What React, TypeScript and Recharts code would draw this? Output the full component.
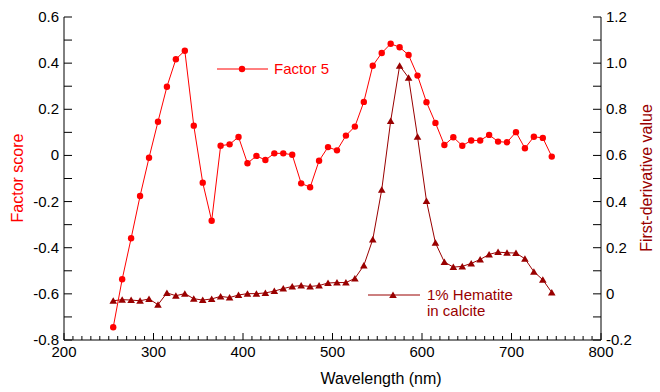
import React from 'react';
import { ComposedChart, Line, XAxis, YAxis } from 'recharts';

const wavelengths = [255, 265, 275, 285, 295, 305, 315, 325, 335, 345, 355, 365, 375, 385, 395, 405, 415, 425, 435, 445, 455, 465, 475, 485, 495, 505, 515, 525, 535, 545, 555, 565, 575, 585, 595, 605, 615, 625, 635, 645, 655, 665, 675, 685, 695, 705, 715, 725, 735, 745];

const factor5 = [-0.745, -0.537, -0.359, -0.176, -0.010, 0.146, 0.298, 0.417, 0.454, 0.129, -0.118, -0.283, 0.042, 0.048, 0.080, -0.034, -0.002, -0.020, 0.009, 0.009, 0.003, -0.121, -0.138, -0.023, 0.036, 0.022, 0.086, 0.125, 0.232, 0.389, 0.444, 0.484, 0.469, 0.435, 0.346, 0.231, 0.141, 0.045, 0.079, 0.042, 0.065, 0.065, 0.089, 0.060, 0.057, 0.101, 0.031, 0.081, 0.076, -0.005];

const hematite = [-0.030, -0.025, -0.027, -0.030, -0.022, -0.047, 0.004, -0.008, 0.001, -0.021, -0.027, -0.022, -0.011, -0.016, -0.005, 0.001, 0.001, 0.004, 0.012, 0.023, 0.032, 0.036, 0.032, 0.036, 0.047, 0.049, 0.049, 0.067, 0.123, 0.236, 0.451, 0.749, 0.989, 0.937, 0.681, 0.403, 0.221, 0.138, 0.116, 0.119, 0.132, 0.149, 0.171, 0.181, 0.178, 0.177, 0.152, 0.096, 0.061, 0.006];

const xTicks = [200, 210, 220, 230, 240, 250, 260, 270, 280, 290, 300, 310, 320, 330, 340, 350, 360, 370, 380, 390, 400, 410, 420, 430, 440, 450, 460, 470, 480, 490, 500, 510, 520, 530, 540, 550, 560, 570, 580, 590, 600, 610, 620, 630, 640, 650, 660, 670, 680, 690, 700, 710, 720, 730, 740, 750, 760, 770, 780, 790, 800];
const leftTicks = [-0.8, -0.7, -0.6, -0.5, -0.4, -0.3, -0.2, -0.1, 0, 0.1, 0.2, 0.3, 0.4, 0.5, 0.6];
const rightTicks = [-0.2, -0.1, 0, 0.1, 0.2, 0.3, 0.4, 0.5, 0.6, 0.7, 0.8, 0.9, 1.0, 1.1, 1.2];

const data = wavelengths.map((w, i) => ({ wl: w, f5: factor5[i], hem: hematite[i] }));

const RED = '#ff0000';
const DARK = '#990000';
const FONT = '"Liberation Sans", Arial, Helvetica, sans-serif';

const fmt = (v: number) => (Math.abs(v) < 1e-9 ? '0' : v.toFixed(1));
const isMajorY = (v: number) => Math.round(v * 10) % 2 === 0;

const BottomTick = (props: any) => {
  const { x, y, payload } = props;
  const v = payload.value;
  const major = v % 100 === 0;
  return (
    <g>
      <line x1={x} x2={x} y1={y} y2={y - (major ? 7 : 4)} stroke="#000" strokeWidth={1} />
      {major && (
        <text x={x} y={y + 17} textAnchor="middle" fontSize={15} fontFamily={FONT} fill="#000">
          {v}
        </text>
      )}
    </g>
  );
};

const TopTick = (props: any) => {
  const { x, y, payload } = props;
  const major = payload.value % 100 === 0;
  return <line x1={x} x2={x} y1={y} y2={y + (major ? 7 : 4)} stroke="#000" strokeWidth={1} />;
};

const LeftTick = (props: any) => {
  const { x, y, payload } = props;
  const v = payload.value;
  return (
    <g>
      <line x1={x} x2={x + 8} y1={y} y2={y} stroke="#000" strokeWidth={1} />
      {isMajorY(v) && (
        <text x={x - 5} y={y + 5} textAnchor="end" fontSize={15} fontFamily={FONT} fill="#000">
          {fmt(v)}
        </text>
      )}
    </g>
  );
};

const RightTick = (props: any) => {
  const { x, y, payload } = props;
  const v = payload.value;
  return (
    <g>
      <line x1={x} x2={x - 8} y1={y} y2={y} stroke="#000" strokeWidth={1} />
      {isMajorY(v) && (
        <text x={x + 5} y={y + 5} textAnchor="start" fontSize={15} fontFamily={FONT} fill="#000">
          {fmt(v)}
        </text>
      )}
    </g>
  );
};

const TriangleDot = (props: any) => {
  const { cx, cy } = props;
  if (cx == null || cy == null) return null;
  return <path d={`M${cx},${cy - 3.5} L${cx + 3.8},${cy + 3} L${cx - 3.8},${cy + 3} Z`} fill={DARK} stroke="none" />;
};

export default function App() {
  return (
    <div style={{ position: 'absolute', left: 0, top: 0, width: 660, height: 392, background: '#fff' }}>
      <ComposedChart
        width={660}
        height={392}
        data={data}
        margin={{ top: 17, right: 20, bottom: 22, left: 20 }}
      >
        <XAxis
          xAxisId="b"
          dataKey="wl"
          type="number"
          domain={[200, 800]}
          ticks={xTicks}
          interval={0}
          tickSize={0}
          tickMargin={0}
          tickLine={false}
          height={30}
          axisLine={{ stroke: '#000' }}
          tick={<BottomTick />}
          allowDataOverflow
        />
        <XAxis
          xAxisId="t"
          orientation="top"
          type="number"
          domain={[200, 800]}
          ticks={xTicks}
          interval={0}
          tickSize={0}
          tickMargin={0}
          tickLine={false}
          height={0}
          axisLine={{ stroke: '#000' }}
          tick={<TopTick />}
          allowDataOverflow
        />
        <YAxis
          yAxisId="l"
          type="number"
          domain={[-0.8, 0.6]}
          ticks={leftTicks}
          interval={0}
          tickSize={0}
          tickMargin={0}
          tickLine={false}
          width={44}
          axisLine={{ stroke: '#000' }}
          tick={<LeftTick />}
          allowDataOverflow
        />
        <YAxis
          yAxisId="r"
          orientation="right"
          type="number"
          domain={[-0.2, 1.2]}
          ticks={rightTicks}
          interval={0}
          tickSize={0}
          tickMargin={0}
          tickLine={false}
          width={39}
          axisLine={{ stroke: '#000' }}
          tick={<RightTick />}
          allowDataOverflow
        />
        <Line
          xAxisId="b"
          yAxisId="r"
          dataKey="hem"
          stroke={DARK}
          strokeWidth={1}
          dot={<TriangleDot />}
          activeDot={false}
          isAnimationActive={false}
        />
        <Line
          xAxisId="b"
          yAxisId="l"
          dataKey="f5"
          stroke={RED}
          strokeWidth={1}
          dot={{ r: 3.2, fill: RED, stroke: 'none' }}
          activeDot={false}
          isAnimationActive={false}
        />
      </ComposedChart>
      <svg
        width={660}
        height={392}
        style={{ position: 'absolute', left: 0, top: 0, pointerEvents: 'none' }}
        fontFamily={FONT}
      >
        <text x={381} y={384} textAnchor="middle" fontSize={16} fill="#000">Wavelength (nm)</text>
        <text transform="translate(23,178) rotate(-90)" textAnchor="middle" fontSize={16} fill={RED}>Factor score</text>
        <text transform="translate(652,178) rotate(-90)" textAnchor="middle" fontSize={16} fill={DARK}>First-derivative value</text>
        <line x1={217} x2={268} y1={69} y2={69} stroke={RED} strokeWidth={1} />
        <circle cx={242} cy={69} r={3.2} fill={RED} />
        <text x={274} y={74} fontSize={15} fill={RED}>Factor 5</text>
        <line x1={368} x2={420} y1={295} y2={295} stroke={DARK} strokeWidth={1} />
        <path d="M393,291.5 L396.8,298 L389.2,298 Z" fill={DARK} />
        <text x={427} y={300} fontSize={15} fill={DARK}>1% Hematite</text>
        <text x={427} y={316} fontSize={15} fill={DARK}>in calcite</text>
      </svg>
    </div>
  );
}
